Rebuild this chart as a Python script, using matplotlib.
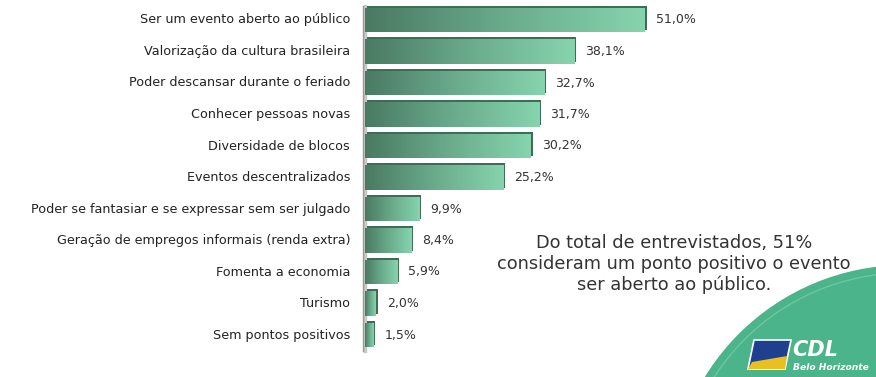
import numpy as np
import matplotlib.pyplot as plt
from matplotlib.patches import Circle, Polygon
from matplotlib.colors import LinearSegmentedColormap

categorias = ["Ser um evento aberto ao público",
              "Valorização da cultura brasileira",
              "Poder descansar durante o feriado",
              "Conhecer pessoas novas",
              "Diversidade de blocos",
              "Eventos descentralizados",
              "Poder se fantasiar e se expressar sem ser julgado",
              "Geração de empregos informais (renda extra)",
              "Fomenta a economia",
              "Turismo",
              "Sem pontos positivos"]
valores = [51.0, 38.1, 32.7, 31.7, 30.2, 25.2, 9.9, 8.4, 5.9, 2.0, 1.5]
rotulos = ["51,0%", "38,1%", "32,7%", "31,7%", "30,2%", "25,2%",
           "9,9%", "8,4%", "5,9%", "2,0%", "1,5%"]

W, H = 876, 377
fig = plt.figure(figsize=(W / 100, H / 100), dpi=100)
fig.patch.set_facecolor("white")

# background axes in pixel units for the logo
bg = fig.add_axes([0, 0, 1, 1], zorder=0)
bg.set_xlim(0, W)
bg.set_ylim(H, 0)
bg.axis("off")
bg.add_patch(Circle((905, 500), 235, facecolor="#4cb48a", edgecolor="none"))
bg.add_patch(Circle((905, 500), 227, facecolor="none", edgecolor="#6cc7a0", lw=1))
bg.add_patch(Polygon([(754, 340), (791, 340), (785, 369), (748, 369)], closed=True,
                     facecolor="#1f3f8f", edgecolor="white", lw=1.2))
bg.add_patch(Polygon([(752, 362), (787, 356), (785, 369), (748, 369)], closed=True,
                     facecolor="#e8c020", edgecolor="none"))
bg.text(792, 350, "CDL", color="white", fontsize=15, fontweight="bold",
        style="italic", va="center", ha="left")
bg.text(793, 368, "Belo Horizonte", color="white", fontsize=6.6,
        fontweight="bold", style="italic", va="center", ha="left")

ax = fig.add_axes([365 / W, 1 - 350.75 / H, 511 / W, 346.5 / H], zorder=1)
ax.patch.set_alpha(0)
ax.axis("off")

cmap = LinearSegmentedColormap.from_list("verde", ["#4a7a62", "#6aab8c", "#86d4ae"])
grad = np.linspace(0, 1, 256).reshape(1, -1)
h = 0.78
y = np.arange(len(valores))

# 3d side / shadow
ax.barh(y - 0.06, valores, height=h, left=0.35, color="#3d6e55", zorder=1)
bars = ax.barh(y, valores, height=h, color="none", zorder=2)
for b, v, yi in zip(bars, valores, y):
    im = ax.imshow(grad, cmap=cmap, extent=(0, v, yi + h / 2, yi - h / 2),
                   aspect="auto", zorder=2)
    im.set_clip_path(b)

ax.set_xlim(0, 511 / 5.49)
ax.set_ylim(10.5, -0.5)

for v, yi, r in zip(valores, y, rotulos):
    ax.text(v + 2.0, yi, r, va="center", ha="left", fontsize=9, color="#333333")

for c, yi in zip(categorias, y):
    ax.text(-2.7, yi, c, va="center", ha="right", fontsize=9.2, color="#222222",
            clip_on=False)

ax.plot([0, 0], [-0.45, 10.5], color="#c8c8c8", lw=2.5, zorder=0, clip_on=False)
ax.plot([-0.3, -0.3], [-0.45, 10.5], color="#999999", lw=1, zorder=0, clip_on=False)

fig.text(674 / W, 1 - 264 / H,
         "Do total de entrevistados, 51%\nconsideram um ponto positivo o evento\nser aberto ao público.",
         ha="center", va="center", fontsize=12.8, color="#333333", linespacing=1.2)

fig.savefig("out.png", dpi=100)
